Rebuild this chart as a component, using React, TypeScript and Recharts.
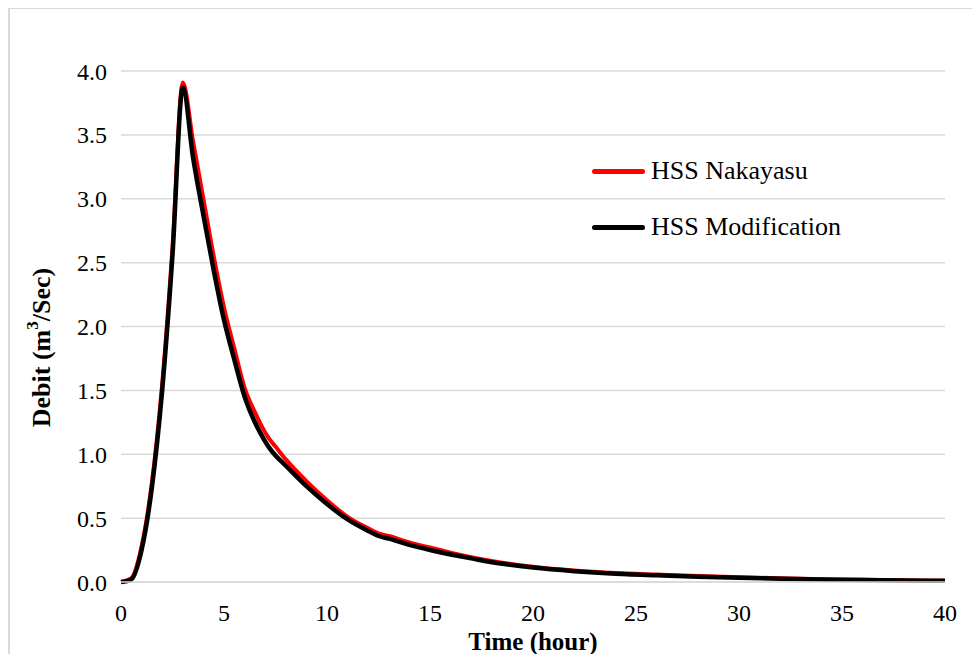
import React from "react";
import { LineChart, Line, XAxis, YAxis, CartesianGrid } from "recharts";

const times = [0, 0.5, 1, 1.5, 2, 2.5, 3, 3.5, 4, 4.5, 5, 5.5, 6, 6.5, 7, 7.2, 7.5, 8, 9, 10, 11, 12, 12.5, 13, 14, 15, 16, 17, 18, 20, 22, 24, 26, 28, 30, 32, 34, 36, 38, 40];
const nakayasu = [0, 0.03, 0.28, 0.78, 1.55, 2.62, 3.91, 3.45, 3.0, 2.55, 2.15, 1.83, 1.52, 1.33, 1.17, 1.12, 1.06, 0.96, 0.79, 0.64, 0.51, 0.42, 0.38, 0.36, 0.31, 0.27, 0.23, 0.195, 0.165, 0.12, 0.09, 0.07, 0.058, 0.047, 0.037, 0.029, 0.022, 0.017, 0.013, 0.01];
const modification = [0, 0.02, 0.25, 0.74, 1.5, 2.56, 3.87, 3.32, 2.87, 2.44, 2.05, 1.74, 1.45, 1.25, 1.1, 1.05, 0.99, 0.91, 0.75, 0.61, 0.49, 0.4, 0.36, 0.34, 0.29, 0.25, 0.215, 0.185, 0.155, 0.113, 0.085, 0.065, 0.052, 0.042, 0.033, 0.026, 0.02, 0.015, 0.012, 0.009];
const xTicks = [0, 5, 10, 15, 20, 25, 30, 35, 40];
const yTicks = [0, 0.5, 1, 1.5, 2, 2.5, 3, 3.5, 4];
const seriesNames = ["HSS Nakayasu", "HSS Modification"];
const seriesColors = ["#ff0000", "#000000"];

const data = times.map((t, i) => ({ t, a: nakayasu[i], b: modification[i] }));

const FONT = "Liberation Serif";

const YTitle = (props: any) => {
  const vb = props.viewBox || {};
  const x = 33;
  const y = vb.y + vb.height / 2 + 21;
  return (
    <text x={x} y={y} transform={`rotate(-90, ${x}, ${y})`} textAnchor="middle" dominantBaseline="central" fontFamily={FONT} fontWeight="bold" fontSize={26} fill="#000">
      Debit (m<tspan fontSize={17} dy={-9}>3</tspan><tspan dy={9}>/Sec)</tspan>
    </text>
  );
};

const XTitle = (props: any) => {
  const vb = props.viewBox || {};
  const x = vb.x + vb.width / 2;
  return (
    <text x={x} y={642} textAnchor="middle" fontFamily={FONT} fontWeight="bold" fontSize={25} fill="#000">
      Time (hour)
    </text>
  );
};

export default function App() {
  return (
    <div style={{ width: 972, height: 646, position: "relative", overflow: "hidden", fontFamily: FONT }}>
      <div style={{ position: "absolute", left: 0, top: -1, width: 1200, height: 800, border: "2px solid #d9d9d9", boxSizing: "border-box", pointerEvents: "none" }} />
      <LineChart width={972} height={646} data={data} margin={{ top: 63, right: 35, bottom: 32, left: 33 }}>
        <CartesianGrid vertical={false} stroke="#d9d9d9" strokeWidth={1.5} />
        <XAxis
          dataKey="t"
          type="number"
          domain={[0, 40]}
          ticks={xTicks}
          tickLine={false}
          axisLine={{ stroke: "#d9d9d9", strokeWidth: 1.5 }}
          height={40}
          tickMargin={16}
          tick={{ fontFamily: FONT, fontSize: 24, fill: "#000" }}
          label={{ content: XTitle }}
        />
        <YAxis
          type="number"
          domain={[0, 4]}
          ticks={yTicks}
          tickFormatter={(v: number) => v.toFixed(1)}
          tickLine={false}
          axisLine={false}
          width={80}
          tickMargin={8}
          tick={{ fontFamily: FONT, fontSize: 24, fill: "#000" }}
          label={{ content: YTitle }}
        />
        <Line dataKey="a" name={seriesNames[0]} type="monotone" stroke={seriesColors[0]} strokeWidth={4} dot={false} isAnimationActive={false} />
        <Line dataKey="b" name={seriesNames[1]} type="monotone" stroke={seriesColors[1]} strokeWidth={4.5} dot={false} isAnimationActive={false} />
      </LineChart>
      <div style={{ position: "absolute", left: 584, top: 135, fontFamily: FONT, fontSize: 26, color: "#000" }}>
        {seriesNames.map((n, i) => (
          <div key={n} style={{ display: "flex", alignItems: "center", height: 56 }}>
            <div style={{ width: 53, height: 5, borderRadius: 3, background: seriesColors[i], marginRight: 6 }} />
            <span>{n}</span>
          </div>
        ))}
      </div>
    </div>
  );
}
